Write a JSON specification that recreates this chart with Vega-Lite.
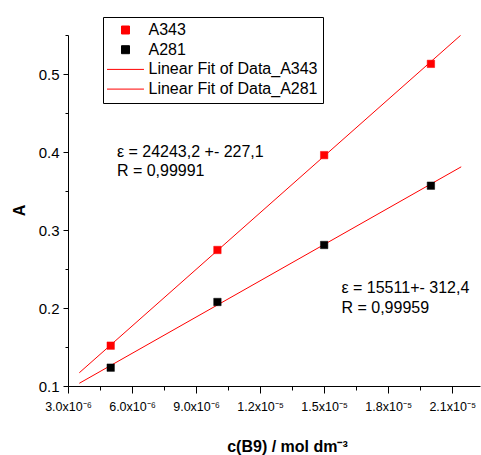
{
  "$schema": "https://vega.github.io/schema/vega-lite/v6.json",
  "width": 412,
  "height": 351,
  "autosize": {"type": "none"},
  "padding": {"left": 68, "top": 35, "right": 1, "bottom": 69},
  "background": "white",
  "config": {"view": {"stroke": null}, "font": "Liberation Sans"},
  "datasets": {
    "points": [
      {"series": "A343", "x": 5e-6, "y": 0.1517},
      {"series": "A343", "x": 1e-5, "y": 0.2744},
      {"series": "A343", "x": 1.5e-5, "y": 0.396},
      {"series": "A343", "x": 2e-5, "y": 0.513},
      {"series": "A281", "x": 5e-6, "y": 0.1235},
      {"series": "A281", "x": 1e-5, "y": 0.2077},
      {"series": "A281", "x": 1.5e-5, "y": 0.2808},
      {"series": "A281", "x": 2e-5, "y": 0.3568}
    ],
    "fits": [
      {"series": "Linear Fit of Data_A343", "x": 3.53e-6, "y": 0.117},
      {"series": "Linear Fit of Data_A343", "x": 2.139e-5, "y": 0.5495},
      {"series": "Linear Fit of Data_A281", "x": 3.53e-6, "y": 0.1035},
      {"series": "Linear Fit of Data_A281", "x": 2.142e-5, "y": 0.381}
    ],
    "notes": [
      {"x": 5.29e-6, "y": 0.3936, "label": "ε = 24243,2 +- 227,1"},
      {"x": 5.29e-6, "y": 0.3692, "label": "R = 0,99991"},
      {"x": 1.581e-5, "y": 0.2188, "label": "ε = 15511+- 312,4"},
      {"x": 1.581e-5, "y": 0.1938, "label": "R = 0,99959"}
    ]
  },
  "encoding": {
    "x": {
      "field": "x",
      "type": "quantitative",
      "scale": {"domain": [3e-6, 2.23e-5], "nice": false, "zero": false},
      "axis": {
        "title": "c(B9) / mol dm⁻³",
        "titleFont": "Liberation Sans",
        "titleFontSize": 16,
        "titleFontWeight": "bold",
        "titleColor": "black",
        "titleX": 219,
        "titleY": 65,
        "titleAlign": "center",
        "titleBaseline": "alphabetic",
        "values": [3e-6, 4.5e-6, 6e-6, 7.5e-6, 9e-6, 1.05e-5, 1.2e-5, 1.35e-5, 1.5e-5, 1.65e-5, 1.8e-5, 1.95e-5, 2.1e-5],
        "labelExpr": "round(datum.value*1e7) % 30 == 0 ? (datum.value < 9.99e-6 ? format(datum.value*1e6, '.1f') + 'x10⁻⁶' : format(datum.value*1e5, '.1f') + 'x10⁻⁵') : ''",
        "tickSize": {"condition": {"test": "round(datum.value*1e7) % 30 == 0", "value": 7}, "value": 4},
        "labelFont": "Liberation Sans",
        "labelFontSize": 12.5,
        "labelColor": "black",
        "labelPadding": 7,
        "labelFlush": false,
        "labelOverlap": false,
        "grid": false,
        "domainColor": "black",
        "domainWidth": 1,
        "tickColor": "black",
        "tickWidth": 1
      }
    },
    "y": {
      "field": "y",
      "type": "quantitative",
      "scale": {"domain": [0.1, 0.55], "nice": false, "zero": false},
      "axis": {
        "title": "A",
        "titleFont": "Liberation Sans",
        "titleFontSize": 16,
        "titleFontWeight": "bold",
        "titleColor": "black",
        "titleX": -49,
        "titleY": 175,
        "titleAlign": "center",
        "titleBaseline": "middle",
        "titleAngle": 270,
        "values": [0.1, 0.15, 0.2, 0.25, 0.3, 0.35, 0.4, 0.45, 0.5, 0.55],
        "labelExpr": "abs(datum.value*10 - round(datum.value*10)) < 0.01 ? format(datum.value, '.1f') : ''",
        "tickSize": {"condition": {"test": "abs(datum.value*10 - round(datum.value*10)) < 0.01", "value": 5}, "value": 3},
        "labelFont": "Liberation Sans",
        "labelFontSize": 15,
        "labelColor": "black",
        "labelPadding": 4,
        "labelFlush": false,
        "labelOverlap": false,
        "grid": false,
        "domainColor": "black",
        "domainWidth": 1,
        "tickColor": "black",
        "tickWidth": 1
      }
    }
  },
  "layer": [
    {
      "data": {"name": "fits"},
      "mark": {"type": "line", "strokeWidth": 1, "clip": true},
      "encoding": {
        "color": {
          "field": "series",
          "type": "nominal",
          "scale": {
            "domain": ["A343", "A281", "Linear Fit of Data_A343", "Linear Fit of Data_A281"],
            "range": ["#ff0000", "#000000", "#ff0000", "#ff0000"]
          },
          "legend": {
            "title": null,
            "orient": "none",
            "legendX": 35,
            "legendY": -18,
            "strokeColor": "black",
            "padding": 5,
            "rowPadding": 3.7,
            "symbolSize": 196,
            "symbolOffset": 9.5,
            "symbolStrokeWidth": 1,
            "symbolOpacity": 1,
            "labelOffset": 15,
            "labelFont": "Liberation Sans",
            "labelFontSize": 16,
            "labelColor": "black",
            "labelLimit": 400
          }
        }
      }
    },
    {
      "data": {"name": "points"},
      "mark": {"type": "point", "filled": false, "size": 170, "strokeWidth": 0.5, "opacity": 1},
      "encoding": {
        "color": {
          "field": "series",
          "type": "nominal",
          "scale": {
            "domain": ["A343", "A281", "Linear Fit of Data_A343", "Linear Fit of Data_A281"],
            "range": ["#ff0000", "#000000", "#ff0000", "#ff0000"]
          },
          "legend": {
            "title": null,
            "orient": "none",
            "legendX": 35,
            "legendY": -18,
            "strokeColor": "black",
            "padding": 5,
            "rowPadding": 3.7,
            "symbolSize": 196,
            "symbolOffset": 9.5,
            "symbolStrokeWidth": 1,
            "symbolOpacity": 1,
            "labelOffset": 15,
            "labelFont": "Liberation Sans",
            "labelFontSize": 16,
            "labelColor": "black",
            "labelLimit": 400
          }
        },
        "fill": {
          "field": "series",
          "type": "nominal",
          "scale": {
            "domain": ["A343", "A281", "Linear Fit of Data_A343", "Linear Fit of Data_A281"],
            "range": ["#ff0000", "#000000", "transparent", "transparent"]
          },
          "legend": {
            "title": null,
            "orient": "none",
            "legendX": 35,
            "legendY": -18,
            "strokeColor": "black",
            "padding": 5,
            "rowPadding": 3.7,
            "symbolSize": 196,
            "symbolOffset": 9.5,
            "symbolStrokeWidth": 1,
            "symbolOpacity": 1,
            "labelOffset": 15,
            "labelFont": "Liberation Sans",
            "labelFontSize": 16,
            "labelColor": "black",
            "labelLimit": 400
          }
        },
        "shape": {
          "field": "series",
          "type": "nominal",
          "scale": {
            "domain": ["A343", "A281", "Linear Fit of Data_A343", "Linear Fit of Data_A281"],
            "range": ["M-0.57,-0.57H0.57V0.57H-0.57Z", "M-0.57,-0.57H0.57V0.57H-0.57Z", "M-2.64,0H2.64", "M-2.64,0H2.64"]
          },
          "legend": {
            "title": null,
            "orient": "none",
            "legendX": 35,
            "legendY": -18,
            "strokeColor": "black",
            "padding": 5,
            "rowPadding": 3.7,
            "symbolSize": 196,
            "symbolOffset": 9.5,
            "symbolStrokeWidth": 1,
            "symbolOpacity": 1,
            "labelOffset": 15,
            "labelFont": "Liberation Sans",
            "labelFontSize": 16,
            "labelColor": "black",
            "labelLimit": 400
          }
        }
      }
    },
    {
      "data": {"name": "notes"},
      "mark": {"type": "text", "align": "left", "baseline": "alphabetic", "font": "Liberation Sans", "fontSize": 16, "color": "black"},
      "encoding": {
        "text": {"field": "label", "type": "nominal"}
      }
    }
  ]
}
